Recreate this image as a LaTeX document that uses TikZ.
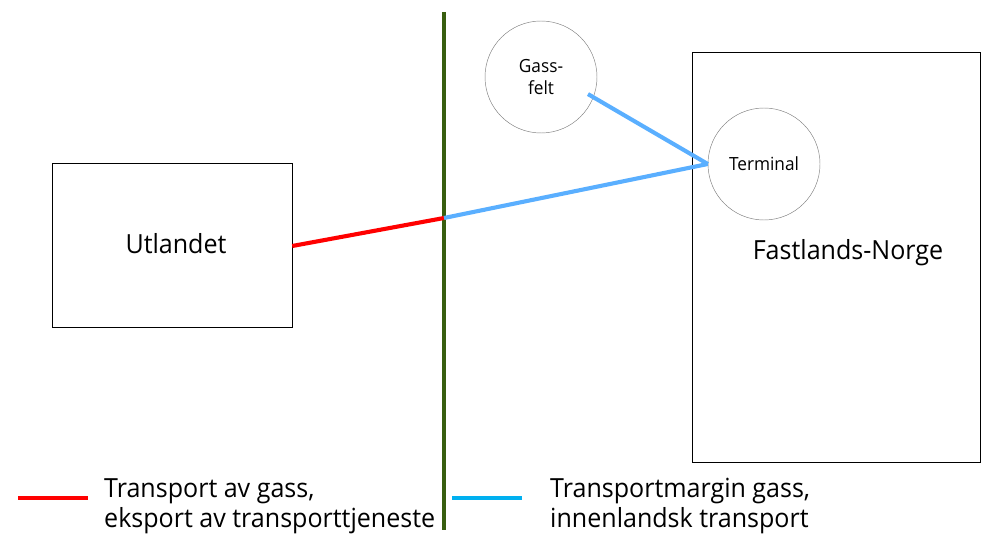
\documentclass[tikz,border=0pt]{standalone}
\usepackage{fontspec}
\setmainfont{Open Sans}[FakeStretch=0.95]

\definecolor{grensegronn}{RGB}{56,94,15}
\definecolor{gassbla}{RGB}{90,175,255}
\definecolor{legendbla}{RGB}{0,176,240}

\begin{document}
\begin{tikzpicture}[x=0.03cm, y=-0.03cm,
    boks/.style={draw, thin, inner sep=0pt},
    sirkel/.style={draw, gray, circle, minimum size=112*0.03cm, inner sep=0pt, text=black, align=center},
    eksport/.style={red, line width=3.5pt},
    innland/.style={gassbla, line width=3.5pt},
    stortekst/.style={font=\fontsize{22.5}{26}\selectfont},
    forklaring/.style={anchor=west, align=left, inner sep=0pt, font=\fontsize{22.5}{25.5}\selectfont}]
            \useasboundingbox (0,0) rectangle (985,543);

            % 两个区域
            \node[boks, minimum width=240*0.03cm, minimum height=164*0.03cm] (utland) at (172,245) {};
            \node[stortekst] (utlandtekst) at (176,244) {Utlandet};
            \node[boks, minimum width=288*0.03cm, minimum height=410*0.03cm] (norge) at (836,257) {};
            \node[stortekst] (norgetekst) at (848,253) {Fastlands-Norge};

            % 边界线
            \coordinate (grensetopp) at (444,12);
            \coordinate (grensebunn) at (444,530);
            \coordinate (kryss) at (444,218);
            \draw[grensegronn, line width=3.5pt] (grensetopp) -- (grensebunn);

            % 气田和终端
            \node[sirkel, font=\fontsize{15.5}{19}\selectfont] (gassfelt) at (541,77) {Gass-\\felt};
            \node[sirkel, font=\fontsize{15.5}{18}\selectfont] (terminal) at (764,164) {Terminal};

            % 管道
            \draw[eksport] (utland.east |- 0,246) -- (kryss);
            \draw[innland] (kryss) -- (terminal.west);
            \draw[innland] ([shift={(-20:50*0.03cm)}]gassfelt.center) -- (terminal.west);

            % 图例
            \coordinate (rodA) at (18,498);
            \coordinate (rodB) at (88,498);
            \draw[red, line width=3.5pt] (rodA) -- (rodB);
            \node[forklaring] (rodtekst) at (104,506) {Transport av gass,\\eksport av transporttjeneste};

            \coordinate (blaA) at (452,498);
            \coordinate (blaB) at (522,498);
            \draw[legendbla, line width=3.5pt] (blaA) -- (blaB);
            \node[forklaring] (blatekst) at (550,506) {Transportmargin gass,\\innenlandsk transport};
        \end{tikzpicture}
\end{document}
